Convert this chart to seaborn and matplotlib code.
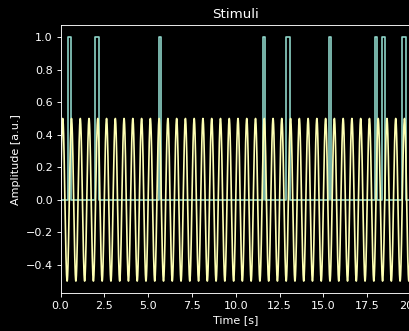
import numpy as np
import pandas as pd
import matplotlib
matplotlib.use("Agg")
import matplotlib.pyplot as plt
import seaborn as sns

# Stimulus parameters
duration_s = 20.0
sine_freq_hz = 2.0
sine_amp = 0.5
pulse_on = [0.42, 1.96, 5.62, 11.54, 12.89, 15.30, 17.96, 18.32, 19.46]
pulse_off = [0.59, 2.17, 5.75, 11.66, 13.09, 15.45, 18.07, 18.51, 19.69]
pulse_level = 1.0

plt.style.use("dark_background")

# pulse train as step series
pt = [0.0]
pv = [0.0]
for on, off in zip(pulse_on, pulse_off):
    pt += [on, off]
    pv += [pulse_level, 0.0]
pt.append(duration_s)
pv.append(0.0)
pulses = pd.DataFrame({"t": pt, "v": pv})

t = np.linspace(0, duration_s, 8001)
sine = pd.DataFrame({"t": t, "v": sine_amp * np.sin(2 * np.pi * sine_freq_hz * t)})

fig = plt.figure(figsize=(409 / 80, 331 / 80), dpi=80)
ax = fig.add_axes([0.148, 0.114, 0.857, 0.8105])
sns.lineplot(data=pulses, x="t", y="v", ax=ax, drawstyle="steps-post", color="#8dd3c7", linewidth=1.5)
sns.lineplot(data=sine, x="t", y="v", ax=ax, color="#feffb3", linewidth=1.5)
ax.set_xlim(0, duration_s)
ax.set_ylim(-0.575, 1.075)
ax.set_title("Stimuli")
ax.set_xlabel("Time [s]")
ax.set_ylabel("Amplitude [a.u.]")
fig.savefig("out.png", dpi=80)
